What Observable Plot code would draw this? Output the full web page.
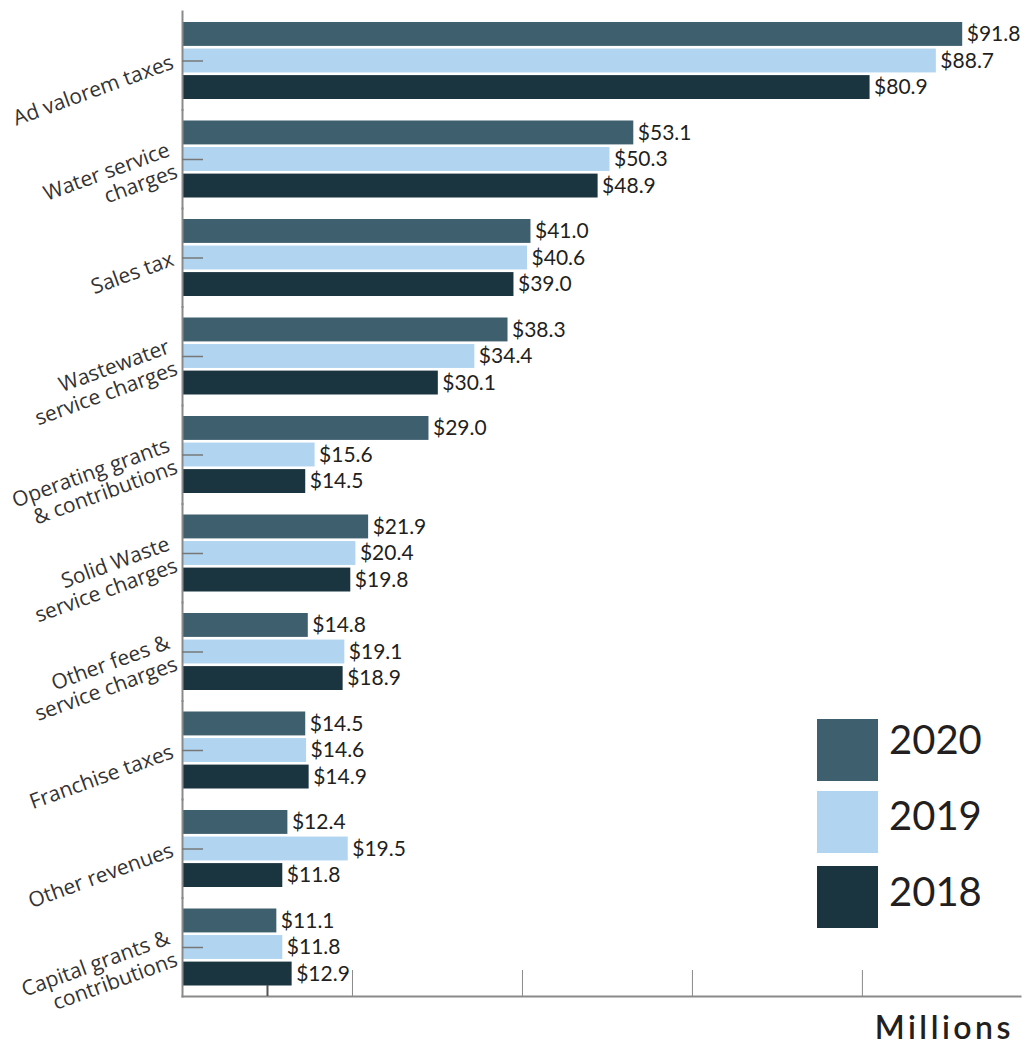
<!DOCTYPE html>
<html>
<head>
<meta charset="utf-8">
<script src="https://cdn.jsdelivr.net/npm/d3@7"></script>
<script src="https://cdn.jsdelivr.net/npm/@observablehq/plot@0.6"></script>
<style>
  html, body { margin: 0; padding: 0; background: #fff; }
  #wrap { position: relative; width: 1024px; height: 1046px; }
  .leg { position: absolute; left: 817px; width: 61px; height: 62px; }
  .legt { position: absolute; left: 889px; font-family: Lato, sans-serif; font-size: 40px; color: #231f20; line-height: 62px; }
  #units { position: absolute; right: 10px; top: 1011px; font-family: Lato, sans-serif; font-size: 32px; line-height: 32px; font-weight: 600; letter-spacing: 3.5px; color: #231f20; }
</style>
</head>
<body>
<div id="wrap"></div>
<script>
const categories = [
  "Ad valorem taxes",
  "Water service\ncharges",
  "Sales tax",
  "Wastewater\nservice charges",
  "Operating grants\n& contributions",
  "Solid Waste\nservice charges",
  "Other fees &\nservice charges",
  "Franchise taxes",
  "Other revenues",
  "Capital grants &\ncontributions"
];
const years = ["2020", "2019", "2018"];
const values2020 = [91.8, 53.1, 41.0, 38.3, 29.0, 21.9, 14.8, 14.5, 12.4, 11.1];
const values2019 = [88.7, 50.3, 40.6, 34.4, 15.6, 20.4, 19.1, 14.6, 19.5, 11.8];
const values2018 = [80.9, 48.9, 39.0, 30.1, 14.5, 19.8, 18.9, 14.9, 11.8, 12.9];
const colors = ["#3e5f6e", "#b1d5f1", "#1a3440"];
const majorTicks = [20, 40, 60, 80];
const minorTicks = [10];
const xMax = 98.6;
const unitLabel = "Millions";

const series = [values2020, values2019, values2018];
const data = [];
categories.forEach((c, i) => {
  years.forEach((y, j) => data.push({category: c, year: y, value: series[j][i]}));
});

const chart = Plot.plot({
  width: 1024,
  height: 1046,
  marginLeft: 182,
  marginRight: 4,
  marginTop: 11,
  marginBottom: 50,
  style: {background: "#fff"},
  x: {domain: [0, xMax], axis: null},
  fy: {domain: categories, padding: 0, round: false, axis: null},
  y: {domain: years, paddingInner: 0.1, paddingOuter: 0, round: false, insetTop: 11, insetBottom: 10.5, axis: null},
  color: {domain: years, range: colors},
  marks: [
    Plot.barX(data, {x: "value", y: "year", fy: "category", fill: "year"}),
    Plot.frame({anchor: "left", stroke: "#8a8a8a", strokeWidth: 2}),
    Plot.frame({anchor: "bottom", facetAnchor: "bottom", stroke: "#8a8a8a", strokeWidth: 2}),
    Plot.axisY(["2019"], {anchor: "left", label: null, tickSize: -21, tickFormat: () => "", stroke: "#777", strokeWidth: 1.5}),
    Plot.axisX(majorTicks, {anchor: "bottom", label: null, tickSize: -26, tickFormat: () => "", stroke: "#8a8a8a", strokeWidth: 1}),
    Plot.axisX(minorTicks, {anchor: "bottom", label: null, tickSize: -11, tickFormat: () => "", stroke: "#555", strokeWidth: 2}),
    Plot.text(data, {
      x: "value", y: "year", fy: "category",
      text: d => "$" + d.value.toFixed(1),
      textAnchor: "start", dx: 4,
      fontFamily: "Lato, sans-serif", fontSize: 21, fill: "#231f20"
    }),
    Plot.text(categories, {
      fy: d => d, y: () => "2019", text: d => d,
      frameAnchor: "left", dx: -10, rotate: -20,
      textAnchor: "end", lineAnchor: "middle", lineHeight: 1.1,
      fontFamily: "'Open Sans', sans-serif", fontSize: 21, fill: "#333"
    })
  ]
});

const wrap = document.getElementById("wrap");
wrap.appendChild(chart);
const legTops = [719, 791, 866];
const legTextTops = [708, 784, 860];
years.forEach((y, i) => {
  const sw = document.createElement("div");
  sw.className = "leg";
  sw.style.top = legTops[i] + "px";
  sw.style.background = colors[i];
  wrap.appendChild(sw);
  const t = document.createElement("div");
  t.className = "legt";
  t.style.top = legTextTops[i] + "px";
  t.textContent = y;
  wrap.appendChild(t);
});
const u = document.createElement("div");
u.id = "units";
u.textContent = unitLabel;
wrap.appendChild(u);
</script>
</body>
</html>
